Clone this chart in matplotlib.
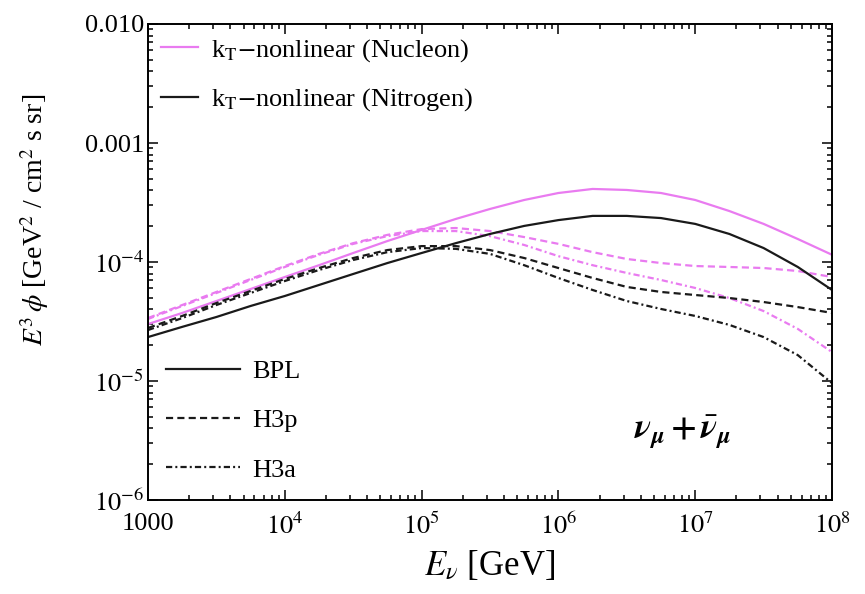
import numpy as np
import matplotlib
matplotlib.use("Agg")
import matplotlib.pyplot as plt
from matplotlib.lines import Line2D
from matplotlib.ticker import FixedLocator, FixedFormatter, LogLocator, NullFormatter

plt.rcParams['font.family'] = ['Liberation Serif', 'DejaVu Serif']
plt.rcParams['mathtext.fontset'] = 'stix'

# ---- data (log10 energy grid, GeV) ----
log_energy = [3.0, 3.25, 3.5, 3.75, 4.0, 4.25, 4.5, 4.75, 5.0, 5.25, 5.5,
              5.75, 6.0, 6.25, 6.5, 6.75, 7.0, 7.25, 7.5, 7.75, 8.0]

nucleon_bpl = [3.01e-5, 3.73e-5, 4.7e-5, 5.93e-5, 7.48e-5, 9.4e-5, 1.19e-4, 1.50e-4,
               1.86e-4, 2.30e-4, 2.79e-4, 3.32e-4, 3.80e-4, 4.11e-4, 4.03e-4, 3.80e-4,
               3.32e-4, 2.68e-4, 2.09e-4, 1.56e-4, 1.15e-4]
nucleon_h3p = [3.38e-5, 4.35e-5, 5.6e-5, 7.2e-5, 9.25e-5, 1.17e-4, 1.44e-4, 1.69e-4,
               1.89e-4, 1.93e-4, 1.82e-4, 1.62e-4, 1.42e-4, 1.21e-4, 1.06e-4, 9.8e-5,
               9.25e-5, 9.08e-5, 8.9e-5, 8.4e-5, 7.48e-5]
nucleon_h3a = [3.32e-5, 4.27e-5, 5.49e-5, 7.06e-5, 9.08e-5, 1.15e-4, 1.42e-4, 1.65e-4,
               1.82e-4, 1.82e-4, 1.65e-4, 1.39e-4, 1.12e-4, 9.4e-5, 8.09e-5, 7.06e-5,
               6.05e-5, 4.98e-5, 3.87e-5, 2.74e-5, 1.75e-5]
nitrogen_bpl = [2.34e-5, 2.85e-5, 3.45e-5, 4.27e-5, 5.18e-5, 6.41e-5, 7.93e-5, 9.8e-5,
                1.19e-4, 1.44e-4, 1.72e-4, 2.01e-4, 2.25e-4, 2.44e-4, 2.44e-4, 2.34e-4,
                2.09e-4, 1.72e-4, 1.31e-4, 9.08e-5, 5.82e-5]
nitrogen_h3p = [2.79e-5, 3.52e-5, 4.52e-5, 5.71e-5, 7.2e-5, 8.9e-5, 1.08e-4, 1.26e-4,
                1.36e-4, 1.36e-4, 1.26e-4, 1.08e-4, 8.9e-5, 7.34e-5, 6.17e-5, 5.6e-5,
                5.28e-5, 4.98e-5, 4.61e-5, 4.18e-5, 3.73e-5]
nitrogen_h3a = [2.68e-5, 3.38e-5, 4.35e-5, 5.49e-5, 6.92e-5, 8.57e-5, 1.04e-4, 1.21e-4,
                1.31e-4, 1.29e-4, 1.17e-4, 9.4e-5, 7.34e-5, 5.82e-5, 4.7e-5, 4.03e-5,
                3.52e-5, 2.96e-5, 2.34e-5, 1.65e-5, 9.6e-6]

x_ticks = [1e3, 1e4, 1e5, 1e6, 1e7, 1e8]
x_ticklabels = ['1000', '$10^4$', '$10^5$', '$10^6$', '$10^7$', '$10^8$']
y_ticks = [1e-6, 1e-5, 1e-4, 1e-3, 1e-2]
y_ticklabels = ['$10^{-6}$', '$10^{-5}$', '$10^{-4}$', '0.001', '0.010']

series_labels = [r'k$_\mathrm{T}$$-$nonlinear (Nucleon)', r'k$_\mathrm{T}$$-$nonlinear (Nitrogen)']
style_labels = ['BPL', 'H3p', 'H3a']

# ---- styles ----
pink = '#E97BF0'
black = '#1a1a1a'
solid = '-'
dashed = (0, (3.2, 1.9))
dashdot = (0, (2.8, 1.4, 0.9, 1.4))
lw = 1.6

energy = 10 ** np.array(log_energy)

fig = plt.figure(figsize=(8.65, 5.94), dpi=100)
ax = fig.add_axes([148/865, 1-500/594, (832-148)/865, (500-24)/594])

ax.plot(energy, nucleon_bpl, color=pink, ls=solid, lw=lw)
ax.plot(energy, nucleon_h3p, color=pink, ls=dashed, lw=lw)
ax.plot(energy, nucleon_h3a, color=pink, ls=dashdot, lw=lw)
ax.plot(energy, nitrogen_bpl, color=black, ls=solid, lw=lw)
ax.plot(energy, nitrogen_h3p, color=black, ls=dashed, lw=lw)
ax.plot(energy, nitrogen_h3a, color=black, ls=dashdot, lw=lw)

ax.set_xscale('log')
ax.set_yscale('log')
ax.set_xlim(1e3, 1e8)
ax.set_ylim(1e-6, 1e-2)

ax.xaxis.set_major_locator(FixedLocator(x_ticks))
ax.xaxis.set_major_formatter(FixedFormatter(x_ticklabels))
ax.yaxis.set_major_locator(FixedLocator(y_ticks))
ax.yaxis.set_major_formatter(FixedFormatter(y_ticklabels))
ax.xaxis.set_minor_locator(LogLocator(base=10, subs=np.arange(2, 10), numticks=20))
ax.yaxis.set_minor_locator(LogLocator(base=10, subs=np.arange(2, 10), numticks=20))
ax.xaxis.set_minor_formatter(NullFormatter())
ax.yaxis.set_minor_formatter(NullFormatter())

ax.tick_params(which='both', direction='in', top=True, right=True, width=1.1, labelsize=19,
               colors='black')
ax.tick_params(which='major', length=7)
ax.tick_params(which='minor', length=3.5)
ax.tick_params(axis='x', pad=9)
ax.tick_params(axis='y', pad=3)
for s in ax.spines.values():
    s.set_linewidth(1.4)

ax.set_xlabel(r'$E_\nu$ [GeV]', fontsize=25)
ax.xaxis.set_label_coords(0.5, -0.105)
ax.set_ylabel(r'$E^3\,\phi$ [GeV$^2$ / cm$^2$ s sr]', fontsize=20)
ax.yaxis.set_label_coords(-0.142, 0.588)

h1 = [Line2D([], [], color=pink, lw=lw), Line2D([], [], color=black, lw=lw)]
leg1 = ax.legend(h1, series_labels, loc='upper left', bbox_to_anchor=(0.0, 1.0),
                 frameon=False, fontsize=19, handlelength=1.4, handletextpad=0.5,
                 labelspacing=0.87, borderaxespad=0.3, borderpad=0.18)
ax.add_artist(leg1)

h2 = [Line2D([], [], color=black, lw=lw, ls=solid),
      Line2D([], [], color=black, lw=lw, ls=dashed),
      Line2D([], [], color=black, lw=lw, ls=dashdot)]
leg2 = ax.legend(h2, style_labels, loc='lower left', bbox_to_anchor=(0.0, 0.0),
                 frameon=False, fontsize=19, handlelength=2.8, handletextpad=0.45,
                 labelspacing=0.97, borderaxespad=0.3, borderpad=0.4)

ax.text(0.782, 0.141,
        r'$\mathbfit{\nu}_{\mathbfit{\mu}}\,\mathbf{+}\,\bar{\mathbfit{\nu}}_{\mathbfit{\mu}}$',
        transform=ax.transAxes, fontsize=25, ha='center', va='center')

fig.savefig('out.png', dpi=100)
